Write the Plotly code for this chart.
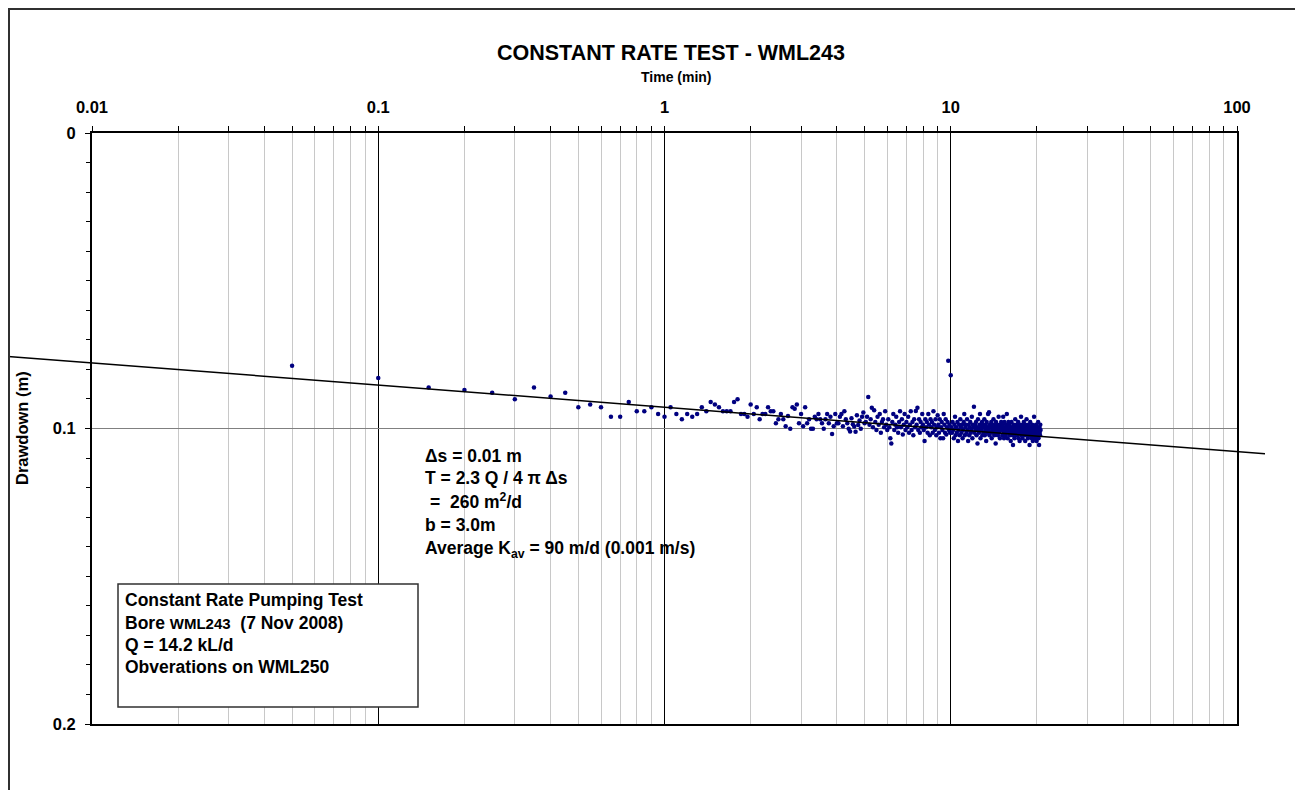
import plotly.graph_objects as go

# Observation bore WML250 - drawdown (mm) against time since pumping started (min)
time_a = [0.05, 0.10, 0.15, 0.20, 0.25, 0.30, 0.35, 0.40, 0.45, 0.50,
          0.55, 0.60, 0.65, 0.70, 0.75, 0.80, 0.85, 0.90, 0.95, 1.00]
dd_a = [78.8, 82.9, 86.1, 87.0, 87.9, 90.1, 86.1, 89.2, 87.9, 92.8,
        91.9, 92.8, 96.0, 96.0, 91.0, 94.2, 94.2, 92.8, 95.1, 96.0]

time_b = [1.05, 1.10, 1.15, 1.20, 1.25, 1.30, 1.35, 1.40, 1.45, 1.50,
          1.55, 1.60, 1.65, 1.70, 1.75, 1.80, 1.85, 1.90, 1.95, 2.00]
dd_b = [92.8, 95.1, 96.9, 95.1, 96.0, 95.1, 92.8, 94.2, 91.0, 91.9,
        92.8, 94.2, 94.2, 94.2, 91.0, 90.1, 95.1, 95.1, 96.0, 91.9]

time_c = [2.05, 2.10, 2.15, 2.20, 2.25, 2.30, 2.35, 2.40, 2.45, 2.50,
          2.55, 2.60, 2.65, 2.70, 2.75, 2.80, 2.85, 2.90, 2.95, 3.00,
          3.05, 3.10, 3.15, 3.20, 3.25, 3.30, 3.35, 3.40, 3.45, 3.50,
          3.55, 3.60, 3.65, 3.70, 3.75, 3.80, 3.85, 3.90, 3.95, 4.00,
          4.05, 4.10, 4.15, 4.20, 4.25, 4.30, 4.35, 4.40, 4.45, 4.50,
          4.55, 4.60, 4.65, 4.70, 4.75, 4.80, 4.85, 4.90, 4.95, 5.00]
dd_c = [95.1, 92.8, 96.9, 95.1, 95.1, 92.8, 94.2, 94.2, 98.2, 96.9,
        95.1, 96.9, 99.2, 95.8, 100.1, 92.8, 93.3, 91.9, 98.2, 95.1,
        99.2, 92.8, 98.2, 96.9, 100.1, 100.1, 96.0, 96.9, 95.1, 96.9,
        98.2, 100.1, 96.9, 95.1, 98.2, 96.0, 101.9, 99.2, 95.1, 98.2,
        98.2, 96.0, 95.1, 99.2, 94.2, 96.9, 98.2, 100.1, 101.0, 96.5,
        98.6, 99.3, 101.1, 95.5, 98.8, 97.3, 100.1, 96.0, 94.6, 98.2]

time_d = [5.05, 5.10, 5.15, 5.20, 5.25, 5.30, 5.35, 5.40, 5.45, 5.50,
          5.55, 5.60, 5.65, 5.70, 5.75, 5.80, 5.85, 5.90, 5.95, 6.00,
          6.05, 6.10, 6.15, 6.20, 6.25, 6.30, 6.35, 6.40, 6.45, 6.50,
          6.55, 6.60, 6.65, 6.70, 6.75, 6.80, 6.85, 6.90, 6.95, 7.00,
          7.05, 7.10, 7.15, 7.20, 7.25, 7.30, 7.35, 7.40, 7.45, 7.50,
          7.55, 7.60, 7.65, 7.70, 7.75, 7.80, 7.85, 7.90, 7.95, 8.00,
          8.05, 8.10, 8.15, 8.20, 8.25, 8.30, 8.35, 8.40, 8.45, 8.50,
          8.55, 8.60, 8.65, 8.70, 8.75, 8.80, 8.85, 8.90, 8.95, 9.00,
          9.05, 9.10, 9.15, 9.20, 9.25, 9.30, 9.35, 9.40, 9.45, 9.50,
          9.55, 9.60, 9.65, 9.70, 9.75, 9.80, 9.85, 9.90, 9.95, 10.00]
dd_d = [97.8, 96.0, 89.3, 98.7, 96.9, 93.0, 99.6, 93.8, 97.8, 100.5,
        96.0, 98.7, 95.1, 101.4, 97.8, 96.9, 99.6, 94.2, 98.7, 100.5,
        96.9, 99.6, 103.3, 105.1, 97.8, 95.1, 100.5, 98.7, 96.0, 99.6,
        101.4, 97.8, 94.2, 99.6, 96.9, 102.0, 98.7, 95.1, 100.5, 97.8,
        99.6, 96.0, 101.4, 98.7, 94.2, 100.5, 97.8, 102.3, 96.9, 99.6,
        94.1, 98.7, 93.0, 100.5, 96.9, 101.4, 97.8, 99.6, 95.1, 98.7,
        100.5, 104.2, 96.9, 99.6, 97.8, 101.4, 95.1, 98.7, 102.3, 96.9,
        99.6, 97.8, 101.4, 94.2, 98.7, 100.5, 96.9, 102.3, 99.6, 95.5,
        98.7, 101.4, 96.9, 103.3, 99.6, 97.8, 100.5, 103.3, 95.1, 98.7,
        101.4, 96.9, 102.0, 99.6, 97.8, 77.1, 100.5, 98.7, 101.4, 82.0]

time_e = [10.05, 10.10, 10.15, 10.20, 10.25, 10.30, 10.35, 10.40, 10.45, 10.50,
          10.55, 10.60, 10.65, 10.70, 10.75, 10.80, 10.85, 10.90, 10.95, 11.00,
          11.05, 11.10, 11.15, 11.20, 11.25, 11.30, 11.35, 11.40, 11.45, 11.50,
          11.55, 11.60, 11.65, 11.70, 11.75, 11.80, 11.85, 11.90, 11.95, 12.00,
          12.05, 12.10, 12.15, 12.20, 12.25, 12.30, 12.35, 12.40, 12.45, 12.50,
          12.55, 12.60, 12.65, 12.70, 12.75, 12.80, 12.85, 12.90, 12.95, 13.00,
          13.05, 13.10, 13.15, 13.20, 13.25, 13.30, 13.35, 13.40, 13.45, 13.50,
          13.55, 13.60, 13.65, 13.70, 13.75, 13.80, 13.85, 13.90, 13.95, 14.00,
          14.05, 14.10, 14.15, 14.20, 14.25, 14.30, 14.35, 14.40, 14.45, 14.50,
          14.55, 14.60, 14.65, 14.70, 14.75, 14.80, 14.85, 14.90, 14.95, 15.00]
dd_e = [99.6, 101.4, 97.8, 100.5, 103.3, 98.7, 96.0, 102.3, 99.6, 101.4,
        97.8, 104.2, 100.5, 98.7, 102.3, 96.9, 99.6, 101.4, 98.7, 103.3,
        100.5, 97.8, 95.1, 102.3, 99.6, 98.7, 101.4, 96.9, 100.5, 104.2,
        98.7, 102.3, 99.6, 97.8, 101.4, 100.5, 96.0, 103.3, 98.7, 99.6,
        92.6, 101.4, 98.7, 100.5, 97.8, 102.3, 99.6, 105.1, 96.9, 100.5,
        101.4, 98.7, 95.1, 103.3, 99.6, 100.5, 97.8, 102.3, 98.7, 101.4,
        99.6, 96.9, 102.3, 100.5, 98.7, 104.2, 97.8, 101.4, 99.6, 95.1,
        100.5, 94.5, 102.3, 98.7, 101.4, 99.6, 97.8, 103.3, 100.5, 98.7,
        101.4, 96.9, 99.6, 102.3, 98.7, 100.5, 105.1, 97.8, 101.4, 99.6,
        98.7, 102.3, 100.5, 96.0, 101.4, 99.6, 103.3, 98.7, 100.5, 97.8]

time_f = [15.05, 15.10, 15.15, 15.20, 15.25, 15.30, 15.35, 15.40, 15.45, 15.50,
          15.55, 15.60, 15.65, 15.70, 15.75, 15.80, 15.85, 15.90, 15.95, 16.00,
          16.05, 16.10, 16.15, 16.20, 16.25, 16.30, 16.35, 16.40, 16.45, 16.50,
          16.55, 16.60, 16.65, 16.70, 16.75, 16.80, 16.85, 16.90, 16.95, 17.00,
          17.05, 17.10, 17.15, 17.20, 17.25, 17.30, 17.35, 17.40, 17.45, 17.50,
          17.55, 17.60, 17.65, 17.70, 17.75, 17.80, 17.85, 17.90, 17.95, 18.00,
          18.05, 18.10, 18.15, 18.20, 18.25, 18.30, 18.35, 18.40, 18.45, 18.50,
          18.55, 18.60, 18.65, 18.70, 18.75, 18.80, 18.85, 18.90, 18.95, 19.00,
          19.05, 19.10, 19.15, 19.20, 19.25, 19.30, 19.35, 19.40, 19.45, 19.50,
          19.55, 19.60, 19.65, 19.70, 19.75, 19.80, 19.85, 19.90, 19.95, 20.00,
          20.05, 20.10, 20.15, 20.20, 20.25, 20.30, 20.35, 20.40, 20.45, 20.50,
          20.55, 20.60]
dd_f = [100.5, 98.7, 102.3, 99.6, 96.0, 101.4, 103.3, 97.8, 100.5, 99.6,
        102.3, 98.7, 101.4, 95.1, 100.5, 103.3, 99.6, 97.8, 101.4, 100.5,
        98.7, 102.3, 99.6, 104.2, 100.5, 97.8, 101.4, 99.6, 102.3, 105.6,
        100.5, 98.7, 101.4, 103.3, 99.6, 96.9, 102.3, 100.5, 98.7, 101.4,
        99.6, 102.3, 100.5, 97.8, 103.3, 101.4, 99.6, 104.2, 98.7, 100.5,
        101.4, 96.0, 102.3, 99.6, 100.5, 103.3, 98.7, 101.4, 100.5, 97.8,
        102.3, 99.6, 101.4, 104.2, 98.7, 100.5, 102.3, 96.9, 101.4, 99.6,
        100.5, 103.3, 98.7, 101.4, 102.3, 99.6, 105.6, 100.5, 97.8, 101.4,
        102.3, 99.6, 100.5, 103.3, 98.7, 101.4, 104.2, 100.5, 99.6, 102.3,
        96.0, 101.4, 100.5, 103.3, 99.6, 102.3, 98.7, 101.4, 104.2, 100.5,
        99.6, 102.3, 101.4, 97.8, 103.3, 100.5, 105.6, 99.6, 101.4, 102.3,
        98.7, 100.5]

# straight-line (Cooper-Jacob) fit drawn on the chart
fit_s_at_001 = 0.0778   # drawdown (m) at t = 0.01 min
fit_slope = 0.0075      # drawdown change (m) per log cycle

x_ticks = [0.01, 0.1, 1, 10, 100]
x_ticktext = ["0.01", "0.1", "1", "10", "100"]
y_ticks = [0, 0.1, 0.2]
y_ticktext = ["0", "0.1", "0.2"]

time_min = time_a + time_b + time_c + time_d + time_e + time_f
drawdown_m = [v / 1000 for v in dd_a + dd_b + dd_c + dd_d + dd_e + dd_f]

FONT = "Liberation Sans, Arial, sans-serif"
OFF = 8                     # the page puts the figure 8 px in from the window corner
W, H = 1303 - OFF, 790 - OFF
plot_x0, plot_x1 = 92, 1237  # plot frame, window pixels
plot_y0, plot_y1 = 133, 724
line_x1 = 1265               # fit line runs past the frame
M_L, M_T = 0, plot_y0 - OFF
M_B = H - (plot_y1 - OFF)
PW = 1262
M_R = W - M_L - PW
PH = H - M_T - M_B

def px(x):
    return (x - OFF - M_L) / PW

def py(y):
    return (H - M_B - (y - OFF)) / PH

# second, hidden x axis with the same log scale so the fit line can run past the frame
dec_px = (plot_x1 - plot_x0) / 4.0
x2_lo = -2 - (plot_x0 - OFF - M_L) / dec_px
x2_hi = -2 + (line_x1 - plot_x0) / dec_px
fit_t = [10 ** x2_lo, 10 ** x2_hi]
fit_s = [fit_s_at_001 + fit_slope * (x2_lo + 2), fit_s_at_001 + fit_slope * (x2_hi + 2)]

minor_x = [m * 10.0 ** e for e in (-2, -1, 0, 1) for m in range(2, 10)]

fig = go.Figure()
fig.add_trace(go.Scatter(
    x=fit_t, y=fit_s, mode="lines", xaxis="x2", yaxis="y2",
    line=dict(color="black", width=1.5), hoverinfo="skip", showlegend=False,
))
fig.add_trace(go.Scatter(
    x=time_min, y=drawdown_m, mode="markers",
    marker=dict(color="#000080", size=4.5, line=dict(width=0)),
    showlegend=False,
))

tickfont = dict(family=FONT, size=16.5, color="black", weight="bold")
fig.update_layout(
    template="none",
    width=W, height=H,
    margin=dict(l=M_L, r=M_R, t=M_T, b=M_B, autoexpand=False),
    paper_bgcolor="white", plot_bgcolor="rgba(0,0,0,0)",
    font=dict(family=FONT, color="black"),
    title=dict(text="<b>CONSTANT RATE TEST - WML243</b>", font=dict(family=FONT, size=21.5),
               xref="paper", x=px(671), xanchor="center",
               yref="container", y=1 - (52 - OFF) / H, yanchor="middle", automargin=False),
    xaxis=dict(type="log", range=[-2, 2], side="top", domain=[px(plot_x0), px(plot_x1)],
               anchor="y", automargin=False,
               tickvals=x_ticks, ticktext=x_ticktext, tickfont=tickfont,
               ticks="outside", ticklen=5, tickcolor="black", ticklabelstandoff=6,
               showgrid=True, gridcolor="black", gridwidth=1,
               showline=True, linecolor="black", linewidth=2, mirror=True,
               minor=dict(tickvals=minor_x, ticks="outside", ticklen=5, tickcolor="black",
                          showgrid=True, gridcolor="#c8c8c8", gridwidth=1),
               zeroline=False),
    yaxis=dict(range=[0.2, 0], domain=[0, 1], anchor="x", automargin=False,
               tickvals=y_ticks, ticktext=y_ticktext, tickfont=tickfont,
               ticks="outside", ticklen=5, tickcolor="black", ticklabelstandoff=6,
               showgrid=True, gridcolor="#808080", gridwidth=1,
               showline=True, linecolor="black", linewidth=2, mirror=True,
               minor=dict(dtick=0.01, ticks="outside", ticklen=4, tickcolor="black", showgrid=False),
               zeroline=False),
    xaxis2=dict(type="log", range=[x2_lo, x2_hi], domain=[0, px(line_x1)], anchor="y2",
                visible=False, showgrid=False, automargin=False),
    yaxis2=dict(range=[0.2, 0], domain=[0, 1], anchor="x2", visible=False,
                showgrid=False, zeroline=False, automargin=False),
)

# outer chart border and the info box
fig.add_shape(type="rect", xref="paper", yref="paper", x0=px(OFF + 1), x1=px(1297), y0=py(800), y1=py(OFF + 1),
              line=dict(color="#303030", width=2), fillcolor="rgba(0,0,0,0)", layer="above")
fig.add_shape(type="rect", xref="paper", yref="paper", x0=px(118), x1=px(418), y0=py(707), y1=py(584),
              line=dict(color="#303030", width=1.5), fillcolor="white", layer="above")

def note(text, x, y, size, **kw):
    fig.add_annotation(text=text, xref="paper", yref="paper", x=px(x), y=py(y),
                       xanchor=kw.get("xanchor", "left"), yanchor="middle", showarrow=False,
                       textangle=kw.get("angle", 0),
                       font=dict(family=FONT, size=size, color="black", weight="bold"))

note("Time (min)", 676, 77, 14, xanchor="center")
note("Drawdown (m)", 22, 428, 16.5, xanchor="center", angle=-90)

note("\u0394s = 0.01 m", 423, 456, 17.5)
note("T = 2.3 Q / 4 \u03c0 \u0394s", 423, 478, 17.5)
note("=  260 m<sup>2</sup>/d", 428, 501, 17.5)
note("b = 3.0m", 423, 525, 17.5)
note("Average K<sub>av</sub> = 90 m/d (0.001 m/s)", 423, 549, 17.5)

note("Constant Rate Pumping Test", 123, 600, 17.5)
note("Bore <span style='font-size:15px'>WML243</span>  (7 Nov 2008)", 123, 623, 17.5)
note("Q = 14.2 kL/d", 123, 645, 17.5)
note("Obverations on WML250", 123, 667, 17.5)

fig.write_html("out.html")
